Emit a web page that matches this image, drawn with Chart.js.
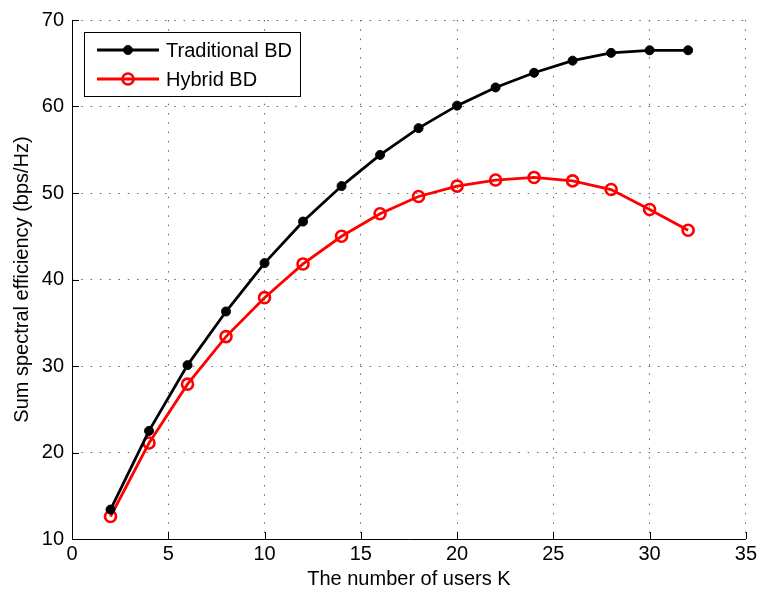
<!DOCTYPE html>
<html lang="en">
<head>
    <meta charset="UTF-8">
    <title>Sum spectral efficiency vs number of users</title>
    <script src="https://cdn.jsdelivr.net/npm/chart.js"></script>
    <style>
        html, body { margin: 0; padding: 0; background: #fff; }
        #wrap { width: 760px; height: 595px; }
    </style>
</head>
<body>
<div id="wrap"><canvas id="seChart" width="760" height="595"></canvas></div>
<script>
    // values
    const users = [2, 4, 6, 8, 10, 12, 14, 16, 18, 20, 22, 24, 26, 28, 30, 32];
    const traditionalBD = [13.4, 22.5, 30.1, 36.3, 41.9, 46.7, 50.8, 54.4, 57.5, 60.1, 62.2, 63.9, 65.3, 66.2, 66.5, 66.5];
    const hybridBD = [12.6, 21.1, 27.9, 33.4, 37.9, 41.8, 45.0, 47.6, 49.6, 50.8, 51.5, 51.8, 51.4, 50.4, 48.1, 45.7];
    const xTicks = [0, 5, 10, 15, 20, 25, 30, 35];
    const yTicks = [10, 20, 30, 40, 50, 60, 70];
    const seriesNames = ['Traditional BD', 'Hybrid BD'];

    const FONT = "'Liberation Sans', Arial, Helvetica, sans-serif";

    function toPoints(ys) {
        return users.map((k, i) => ({ x: k, y: ys[i] }));
    }

    // MATLAB-like axes: solid left/bottom lines with inward ticks, legend box
    const matlabAxes = {
        id: 'matlabAxes',
        afterDatasetsDraw(chart) {
            const { ctx, chartArea: a, scales: { x, y } } = chart;
            ctx.save();
            ctx.strokeStyle = '#000';
            ctx.lineWidth = 1;
            ctx.beginPath();
            ctx.moveTo(a.left + 0.5, a.top);
            ctx.lineTo(a.left + 0.5, a.bottom + 0.5);
            ctx.lineTo(a.right, a.bottom + 0.5);
            ctx.stroke();
            ctx.beginPath();
            xTicks.forEach(v => {
                const px = Math.round(x.getPixelForValue(v)) + 0.5;
                ctx.moveTo(px, a.bottom);
                ctx.lineTo(px, a.bottom - 7);
            });
            yTicks.forEach(v => {
                const py = Math.round(y.getPixelForValue(v)) + 0.5;
                ctx.moveTo(a.left, py);
                ctx.lineTo(a.left + 7, py);
            });
            ctx.stroke();
            ctx.restore();
        },
        afterDraw(chart) {
            const { ctx } = chart;
            const box = { x: 84.5, y: 32.5, w: 216, h: 64 };
            ctx.save();
            ctx.fillStyle = '#fff';
            ctx.fillRect(box.x, box.y, box.w, box.h);
            ctx.strokeStyle = '#000';
            ctx.lineWidth = 1;
            ctx.strokeRect(box.x, box.y, box.w, box.h);
            chart.data.datasets.forEach((ds, i) => {
                const cy = 50 + i * 29;
                ctx.strokeStyle = ds.borderColor;
                ctx.lineWidth = ds.borderWidth;
                ctx.beginPath();
                ctx.moveTo(97, cy);
                ctx.lineTo(159, cy);
                ctx.stroke();
                ctx.beginPath();
                ctx.arc(128, cy, ds.pointRadius, 0, Math.PI * 2);
                if (ds.pointBackgroundColor !== 'rgba(0,0,0,0)') {
                    ctx.fillStyle = ds.pointBackgroundColor;
                    ctx.fill();
                }
                ctx.lineWidth = ds.pointBorderWidth;
                ctx.strokeStyle = ds.pointBorderColor;
                ctx.stroke();
                ctx.fillStyle = '#000';
                ctx.font = '20px ' + FONT;
                ctx.textBaseline = 'middle';
                ctx.textAlign = 'left';
                ctx.fillText(seriesNames[i], 166, cy + 1);
            });
            ctx.restore();
        }
    };

    const ctx = document.getElementById('seChart').getContext('2d');
    new Chart(ctx, {
        type: 'line',
        data: {
            datasets: [
                {
                    label: seriesNames[0],
                    data: toPoints(traditionalBD),
                    borderColor: '#000',
                    borderWidth: 2.8,
                    pointRadius: 4.5,
                    pointBackgroundColor: '#000',
                    pointBorderColor: '#000',
                    pointBorderWidth: 1,
                    fill: false,
                    tension: 0
                },
                {
                    label: seriesNames[1],
                    data: toPoints(hybridBD),
                    borderColor: '#ff0000',
                    borderWidth: 2.8,
                    pointRadius: 5.5,
                    pointBackgroundColor: 'rgba(0,0,0,0)',
                    pointBorderColor: '#ff0000',
                    pointBorderWidth: 2.6,
                    fill: false,
                    tension: 0
                }
            ]
        },
        options: {
            responsive: false,
            animation: false,
            layout: { padding: { top: 16, right: 13, left: 0, bottom: 0 } },
            plugins: {
                legend: { display: false },
                tooltip: { enabled: false }
            },
            scales: {
                x: {
                    type: 'linear',
                    min: 0,
                    max: 35,
                    afterFit: s => { s.height = 56; },
                    afterBuildTicks: s => { s.ticks = xTicks.map(v => ({ value: v })); },
                    ticks: { color: '#000', font: { family: FONT, size: 20 }, padding: 3, maxRotation: 0 },
                    grid: { color: '#666', lineWidth: 1, drawTicks: false },
                    border: { display: false, dash: [1.5, 7.8] },
                    title: {
                        display: true,
                        text: 'The number of users K',
                        color: '#000',
                        font: { family: FONT, size: 20 },
                        padding: { top: 0, bottom: 4 }
                    }
                },
                y: {
                    min: 10,
                    max: 70,
                    afterFit: s => { s.width = 72; },
                    afterBuildTicks: s => { s.ticks = yTicks.map(v => ({ value: v })); },
                    ticks: { color: '#000', font: { family: FONT, size: 20 }, padding: 8 },
                    grid: { color: '#666', lineWidth: 1, drawTicks: false },
                    border: { display: false, dash: [1.5, 7.8] },
                    title: {
                        display: true,
                        text: 'Sum spectral efficiency (bps/Hz)',
                        color: '#000',
                        font: { family: FONT, size: 20 },
                        padding: { top: 10, bottom: 0 }
                    }
                }
            }
        },
        plugins: [matlabAxes]
    });
</script>
</body>
</html>
